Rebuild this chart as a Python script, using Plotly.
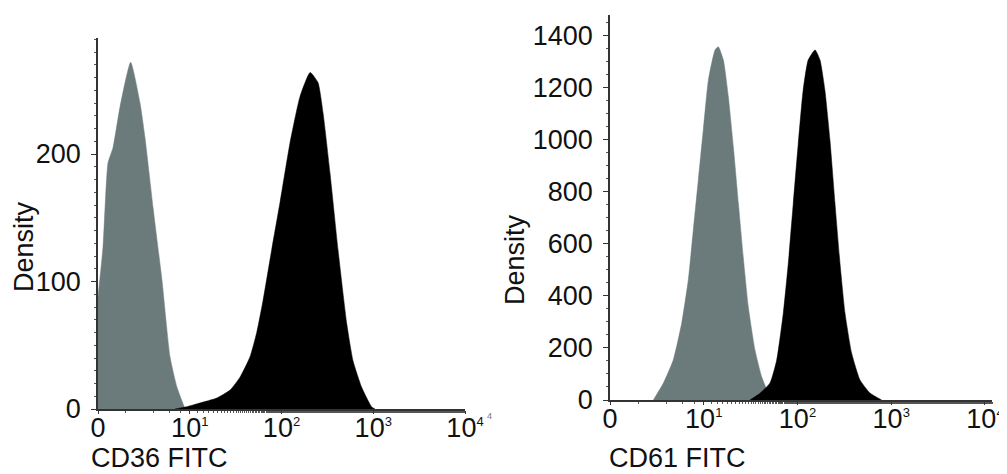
import plotly.graph_objects as go

# ---- data (fluorescence intensity, density) ----
cd36_iso_x = [1.0, 1.134, 1.285, 1.457, 1.738, 2.27, 2.87, 3.25, 3.98, 4.98, 6.09, 7.26, 8.88]
cd36_iso_y = [88, 127, 193, 205, 237, 272, 240, 213, 158, 101, 41, 17, 0]

cd36_x = [6.9, 9.27, 12.9, 19.7, 27.5, 35.3, 45.4, 53.7, 62.9, 78.2, 96.3, 124, 159, 205,
          250, 284, 338, 413, 514, 601, 748, 962, 1045]
cd36_y = [0, 1.8, 4.7, 8.6, 14.9, 25, 41, 60, 85, 125, 162, 209, 245, 264,
          256, 232, 185, 125, 67, 38, 17, 1.6, 0]

cd61_iso_x = [2.90, 3.70, 4.73, 5.82, 6.84, 7.74, 8.75, 9.89, 11.2, 13.2, 14.3, 16.2, 18.3,
              20.7, 23.4, 26.4, 29.9, 35.2, 41.5, 48.8, 55.2]
cd61_iso_y = [0, 64, 153, 295, 460, 652, 844, 1036, 1227, 1343, 1355, 1304, 1163,
              971, 756, 548, 357, 192, 89, 27, 0]

cd61_x = [31.1, 39.8, 50.9, 60.0, 70.6, 79.8, 90.2, 102, 115, 130, 154, 174, 196, 222,
          251, 284, 321, 378, 464, 593, 791]
cd61_y = [0, 25.6, 65, 153, 334, 525, 756, 986, 1189, 1304, 1343, 1304, 1189, 997,
          756, 525, 334, 180, 77, 27, 0]

SUP = "<sup><span style='font-size:13px'>{}</span></sup>"
x_tickvals = [1, 10, 100, 1000, 10000]
x_ticktext = ["0", "10" + SUP.format(1), "10" + SUP.format(2), "10" + SUP.format(3),
              "10" + SUP.format(4)]
left_y_ticks = [0, 100, 200]
right_y_ticks = [0, 200, 400, 600, 800, 1000, 1200, 1400]

GRAY = "#6b7a7a"
FONT = "Liberation Sans, Arial, sans-serif"

fig = go.Figure()

def area(x, y, color, xa, ya):
    fig.add_trace(go.Scatter(x=x, y=y, mode="lines", fill="tozeroy",
                             line=dict(color=color, width=0.5, shape="spline", smoothing=0.5),
                             fillcolor=color, xaxis=xa, yaxis=ya, showlegend=False,
                             hoverinfo="skip"))

area(cd36_iso_x, cd36_iso_y, GRAY, "x", "y")
area(cd36_x, cd36_y, "black", "x", "y")
area(cd61_iso_x, cd61_iso_y, GRAY, "x2", "y2")
area(cd61_x, cd61_y, "black", "x2", "y2")

# page has an 8px body margin: figure sized/positioned so the window shows 1007x474
OFF = 8
W, H = 1007 - OFF, 474 - OFF

def px(x):
    return (x - OFF) / W

def py(y):
    return 1 - (y - OFF) / H

axis_common = dict(showgrid=False, zeroline=False, showline=True, linecolor="#333",
                   linewidth=1.5, ticks="outside", ticklen=5, tickcolor="#333",
                   automargin=False,
                   tickfont=dict(family=FONT, size=27, color="#111"))

xcommon = dict(axis_common, type="log", tickvals=x_tickvals, ticktext=x_ticktext,
               ticklen=3, ticklabelstandoff=-9,
               minor=dict(ticks="outside", ticklen=2, tickcolor="#555", showgrid=False))

fig.update_layout(
    width=W, height=H, margin=dict(l=0, r=0, t=0, b=0),
    paper_bgcolor="white", plot_bgcolor="white",
    xaxis=dict(xcommon, domain=[px(98), px(465)], range=[0, 4.0], anchor="y"),
    yaxis=dict(axis_common, domain=[py(409), py(38)], range=[0, 291],
               tickvals=left_y_ticks, anchor="x", ticklabelstandoff=5,
               minor=dict(ticks="outside", ticklen=2, dtick=10, tickcolor="#555")),
    xaxis2=dict(xcommon, domain=[px(610), px(992)], range=[0, 4.075], anchor="y2"),
    yaxis2=dict(axis_common, domain=[py(400), py(15)], range=[0, 1477],
                tickvals=right_y_ticks, anchor="x2", ticklabelstandoff=5,
                minor=dict(ticks="outside", ticklen=2, dtick=50, tickcolor="#555")),
)

def label(text, x, y, rot=0, size=27, color="#111", xanchor="center"):
    fig.add_annotation(text=text, x=px(x), y=py(y), xref="paper", yref="paper",
                       showarrow=False, textangle=rot, xanchor=xanchor, yanchor="middle",
                       font=dict(family=FONT, size=size, color=color))

label("Density", 24, 247, rot=-90)
label("Density", 515, 260, rot=-90)
label("CD36 FITC", 89, 458, xanchor="left")
label("CD61 FITC", 607, 458, xanchor="left")
label("4", 489, 416, size=9, color="#777")

fig.write_html("out.html")
